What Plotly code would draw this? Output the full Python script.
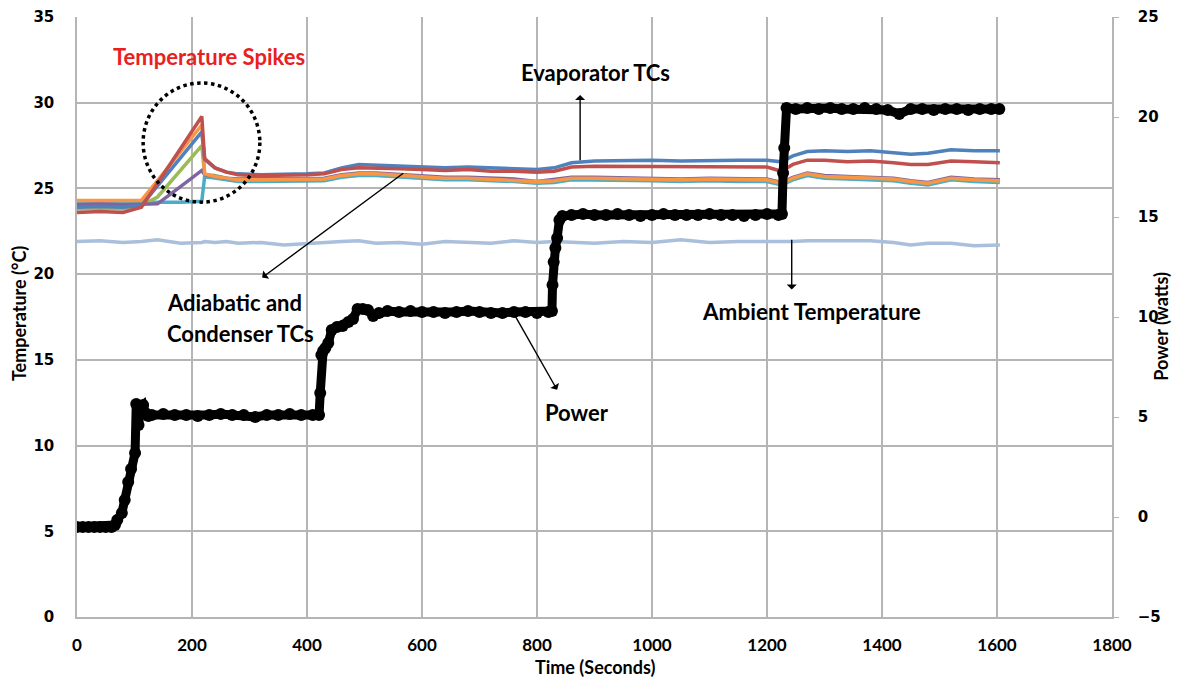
import plotly.graph_objects as go

# ---- thermocouple data (time in s, temperature in deg C) ----
tc_time = [0, 40, 80, 112, 140, 180, 217, 222, 240, 260, 280, 320, 360, 400, 430, 460,
           490, 520, 560, 600, 640, 680, 720, 760, 800, 830, 860, 900, 950, 1000, 1050,
           1100, 1150, 1200, 1225, 1245, 1270, 1300, 1340, 1380, 1420, 1450, 1480, 1520,
           1560, 1605]

tc_blue = [23.9, 23.95, 23.9, 24.0, 25.15, 26.8, 28.3, 26.7, 26.2, 25.95, 25.85, 25.8, 25.8, 25.85,
           25.9, 26.2, 26.4, 26.35, 26.3, 26.25, 26.2, 26.25, 26.2, 26.15, 26.1, 26.2, 26.5,
           26.6, 26.65, 26.65, 26.6, 26.65, 26.65, 26.65, 26.55, 26.9, 27.15, 27.2, 27.15,
           27.2, 27.1, 27.0, 27.05, 27.25, 27.2, 27.2]
tc_red = [23.6, 23.65, 23.6, 23.9, 25.3, 27.3, 29.2, 26.75, 26.2, 25.95, 25.8, 25.75, 25.75, 25.8,
          25.85, 26.1, 26.2, 26.2, 26.15, 26.1, 26.05, 26.1, 26.0, 26.0, 25.95, 26.0, 26.25,
          26.3, 26.3, 26.3, 26.25, 26.3, 26.3, 26.25, 26.0, 26.4, 26.65, 26.65, 26.55, 26.6,
          26.5, 26.4, 26.4, 26.6, 26.55, 26.5]
tc_orange = [24.3, 24.3, 24.25, 24.3, 25.45, 27.15, 28.7, 25.85, 25.7, 25.6, 25.5, 25.5, 25.5, 25.5,
             25.55, 25.75, 25.85, 25.85, 25.75, 25.65, 25.6, 25.6, 25.55, 25.5, 25.4, 25.45, 25.6,
             25.6, 25.55, 25.55, 25.5, 25.55, 25.5, 25.5, 25.3, 25.6, 25.85, 25.7, 25.65, 25.6,
             25.55, 25.4, 25.3, 25.6, 25.5, 25.45]
tc_aqua = [24.15, 24.2, 24.15, 24.2, 24.2, 24.2, 24.25, 25.7, 25.6, 25.5, 25.4, 25.4, 25.4, 25.4,
           25.45, 25.65, 25.75, 25.75, 25.65, 25.55, 25.5, 25.5, 25.45, 25.4, 25.3, 25.35, 25.5,
           25.5, 25.45, 25.45, 25.4, 25.45, 25.4, 25.4, 25.2, 25.5, 25.75, 25.6, 25.55, 25.5,
           25.45, 25.3, 25.2, 25.5, 25.4, 25.35]
tc_purple = [24.05, 24.1, 24.05, 24.1, 24.1, 25.1, 26.05, 25.8, 25.7, 25.6, 25.55, 25.55, 25.55,
             25.55, 25.6, 25.8, 25.9, 25.9, 25.8, 25.7, 25.65, 25.65, 25.6, 25.55, 25.4, 25.5,
             25.65, 25.65, 25.6, 25.6, 25.55, 25.6, 25.55, 25.55, 25.35, 25.65, 25.9, 25.75,
             25.7, 25.65, 25.6, 25.45, 25.35, 25.65, 25.55, 25.5]
tc_green = [23.8, 23.85, 23.8, 24.0, 24.5, 26.05, 27.5, 25.8, 25.75, 25.6, 25.5, 25.5, 25.5, 25.5,
            25.55, 25.75, 25.85, 25.85, 25.75, 25.65, 25.6, 25.6, 25.55, 25.5, 25.35, 25.45, 25.6,
            25.6, 25.55, 25.55, 25.5, 25.55, 25.5, 25.5, 25.3, 25.6, 25.85, 25.7, 25.65, 25.6,
            25.55, 25.4, 25.3, 25.6, 25.5, 25.45]
tc_ambient = [21.9, 21.95, 21.85, 21.9, 22.0, 21.8, 21.85, 21.9, 21.85, 21.9, 21.8, 21.85, 21.7,
              21.8, 21.85, 21.9, 21.95, 21.8, 21.85, 21.75, 21.9, 21.85, 21.8, 21.95, 21.85, 21.9,
              21.85, 21.8, 21.9, 21.85, 22.0, 21.85, 21.9, 21.9, 21.85, 21.9, 21.95, 21.95, 21.9,
              21.95, 21.85, 21.7, 21.8, 21.8, 21.65, 21.7]

# ---- power data (time in s, watts) ----
power_time = [0, 10, 20, 30, 40, 50, 60, 66, 70, 78, 83, 89, 94, 101, 103, 107, 111, 115, 119, 124,
              130, 150, 170, 190, 210, 230, 250, 270, 290, 310, 330, 350, 370, 390, 410, 421,
              423, 425, 428, 432, 437, 443, 452, 462, 472, 480, 488, 497, 506, 515, 525,
              540, 560, 580, 600, 620, 640, 660, 680, 700, 720, 740, 760, 780, 800, 820,
              826, 827, 829, 832, 835, 839, 844,
              860, 880, 900, 920, 940, 960, 980, 1000, 1020, 1040, 1060, 1080, 1100, 1120,
              1140, 1160, 1180, 1200, 1220,
              1226, 1228, 1230, 1234,
              1250, 1270, 1290, 1310, 1330, 1350, 1370, 1390, 1410, 1430, 1450, 1470, 1490,
              1510, 1530, 1550, 1570, 1590, 1604]
power_w = [-0.5, -0.5, -0.5, -0.5, -0.5, -0.5, -0.5, -0.4, -0.15, 0.2, 0.85, 1.75, 2.4, 3.2, 5.65,
           4.6, 5.5, 5.6, 5.2, 5.05,
           5.1, 5.15, 5.1, 5.1, 5.05, 5.1, 5.15, 5.1, 5.1, 5.0, 5.1, 5.1, 5.15, 5.1, 5.1, 5.1,
           6.2, 8.1, 8.3, 8.45, 8.7, 9.35, 9.5, 9.55, 9.75, 9.9, 10.4, 10.4, 10.35, 10.05, 10.2,
           10.3, 10.25, 10.3, 10.25, 10.25, 10.2, 10.25, 10.3, 10.25, 10.2, 10.2, 10.25, 10.25,
           10.2, 10.25,
           10.3, 11.6, 12.75, 13.45, 13.95, 14.85, 15.05,
           15.1, 15.15, 15.1, 15.1, 15.15, 15.1, 15.05, 15.1, 15.15, 15.1, 15.1, 15.1, 15.15,
           15.1, 15.1, 15.05, 15.1, 15.15, 15.1,
           15.15, 17.2, 18.45, 20.45,
           20.4, 20.45, 20.4, 20.45, 20.4, 20.4, 20.45, 20.4, 20.35, 20.15, 20.4, 20.4, 20.35,
           20.4, 20.4, 20.35, 20.4, 20.4, 20.4]

x_ticks = [0, 200, 400, 600, 800, 1000, 1200, 1400, 1600, 1800]

fig = go.Figure()

tc_series = [
    ("Aqua TC", tc_aqua, "#4BACC6"),
    ("Green TC", tc_green, "#9BBB59"),
    ("Purple TC", tc_purple, "#8064A2"),
    ("Orange TC", tc_orange, "#F79646"),
    ("Blue TC", tc_blue, "#4F81BD"),
    ("Red TC", tc_red, "#C0504D"),
]
for name, vals, color in tc_series:
    fig.add_trace(go.Scatter(x=tc_time, y=vals, name=name, mode="lines",
                             line=dict(color=color, width=3.5)))

fig.add_trace(go.Scatter(x=tc_time, y=tc_ambient, name="Ambient", mode="lines",
                         line=dict(color="#A9BFDC", width=3.5)))

fig.add_trace(go.Scatter(x=power_time, y=power_w, name="Power", yaxis="y2",
                         mode="lines+markers", line=dict(color="black", width=9),
                         marker=dict(color="black", size=12)))

# dotted circle around the spikes
fig.add_shape(type="circle", xref="x", yref="y", x0=115, x1=318, y0=24.2, y1=31.15,
              line=dict(color="black", width=3.5, dash="dot"))

txt = dict(family="Lato, Open Sans, sans-serif", size=22, color="black", weight="bold")


def arrow(x, y, ax, ay):
    fig.add_annotation(x=x, y=y, ax=ax, ay=ay, xref="x", yref="y", axref="x", ayref="y",
                       text="", showarrow=True, arrowhead=1, arrowsize=1.2,
                       arrowwidth=1.4, arrowcolor="black")


arrow(875, 30.45, 875, 26.55)
arrow(322, 19.8, 570, 25.95)
arrow(835, 13.25, 758, 17.8)
arrow(1243, 19.1, 1243, 22.1)

fig.add_annotation(x=229, y=32.7, xref="x", yref="y", text="Temperature Spikes",
                   showarrow=False, font=dict(txt, color="#E8201F"))
fig.add_annotation(x=902, y=31.75, xref="x", yref="y", text="Evaporator TCs",
                   showarrow=False, font=txt)
fig.add_annotation(x=153, y=18.35, xref="x", yref="y", xanchor="left",
                   text="Adiabatic and", showarrow=False, font=txt)
fig.add_annotation(x=153, y=16.55, xref="x", yref="y", xanchor="left",
                   text="Condenser TCs", showarrow=False, font=txt)
fig.add_annotation(x=870, y=11.95, xref="x", yref="y", text="Power",
                   showarrow=False, font=txt)
fig.add_annotation(x=1278, y=17.85, xref="x", yref="y", text="Ambient Temperature",
                   showarrow=False, font=dict(txt, size=22.5))

# axis titles
title_font = dict(family="Lato, sans-serif", size=18, color="black", weight="bold")
fig.add_annotation(x=0.5, y=-0.083, xref="paper", yref="paper", text="Time (Seconds)",
                   xanchor="center", yanchor="middle", showarrow=False, font=title_font)
fig.add_annotation(x=-0.056, y=0.505, xref="paper", yref="paper", text="Temperature (°C)",
                   xanchor="center", yanchor="middle", textangle=-90, showarrow=False,
                   font=title_font)
fig.add_annotation(x=1.047, y=0.485, xref="paper", yref="paper", text="Power (watts)",
                   xanchor="center", yanchor="middle", textangle=-90, showarrow=False,
                   font=title_font)

grid = "#B5B5B5"
fig.update_layout(
    width=1164, height=670,
    margin=dict(l=69, r=60, t=9, b=61),
    plot_bgcolor="white", paper_bgcolor="white",
    showlegend=False,
    xaxis=dict(range=[0, 1800], tickvals=x_ticks, showgrid=True, gridcolor=grid, gridwidth=1.5,
               zeroline=False, showline=True, linecolor=grid, linewidth=1.5, ticks="",
               ticklabelstandoff=12, automargin=False,
               tickfont=dict(family="Lato, sans-serif", size=17, color="black", weight="bold")),
    yaxis=dict(range=[0, 35], dtick=5, showgrid=True, gridcolor=grid, gridwidth=1.5,
               zeroline=False, showline=True, linecolor=grid, linewidth=1.5,
               ticks="outside", ticklen=8, tickcolor="rgba(0,0,0,0)", ticklabelstandoff=10,
               automargin=False,
               tickfont=dict(family="DejaVu Sans, Verdana, sans-serif", size=15, color="black",
                             weight="bold")),
    yaxis2=dict(range=[-5, 25], dtick=5, overlaying="y", side="right", showgrid=False,
                zeroline=False, showline=True, linecolor=grid, linewidth=1.5,
                ticks="outside", ticklen=5, tickcolor=grid, ticklabelstandoff=16,
                automargin=False,
                tickfont=dict(family="DejaVu Sans, Verdana, sans-serif", size=15, color="black",
                              weight="bold")),
)

fig.write_html("out.html")
